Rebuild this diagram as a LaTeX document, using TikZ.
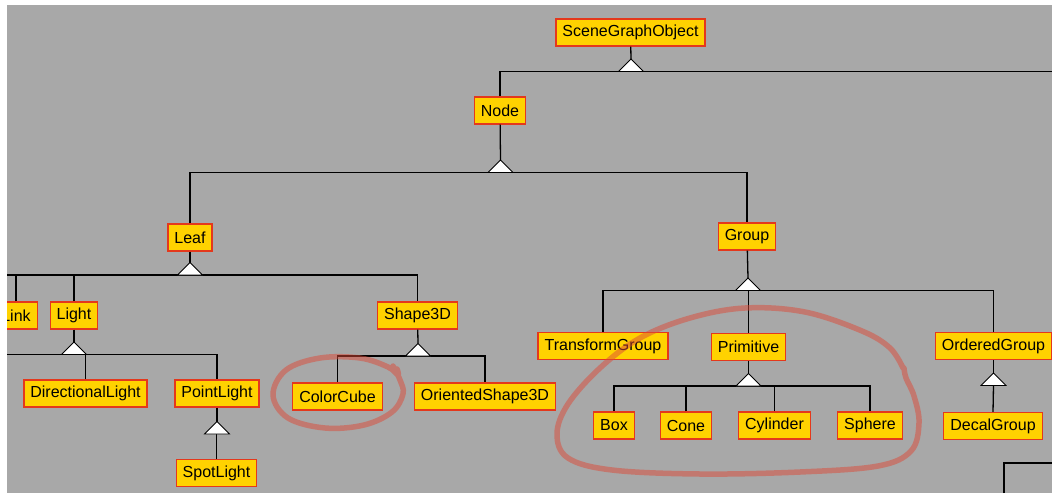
\documentclass[tikz,border=0pt]{standalone}
\usepackage{fontspec}
\setmainfont{Liberation Sans}
\definecolor{backdrop}{HTML}{A8A8A8}
\definecolor{boxfill}{HTML}{FFD200}
\definecolor{boxline}{HTML}{E4381C}
\definecolor{pen}{HTML}{DC4A38}

\begin{document}
\begin{tikzpicture}
            [x=1pt,y=-1pt,
             cls/.style={draw=boxline,fill=boxfill,line width=1.3pt,font=\fontsize{16}{19}\selectfont,
                         inner xsep=6.5pt,inner ysep=0pt,minimum height=27pt},
             link/.style={draw=black,line width=1.3pt},
             inh/.style={draw=black,fill=white,line width=0.8pt,line join=miter},
             scribble/.style={draw=pen,opacity=0.5,line width=5.5pt,line cap=round,line join=round}]

            \fill[white] (0,0) rectangle (1052,493);
            \fill[backdrop] (7,5) rectangle (1052,493);
            \useasboundingbox (0,0) rectangle (1052,493);
            \clip (7,5) rectangle (1052,493);

            \node (sgo) [cls] at (630.5,32.5) {SceneGraphObject};
            \node (node) [cls] at (500,110.5) {Node};
            \node (leaf) [cls] at (190,237.5) {Leaf};
            \node (group) [cls] at (747,236.5) {Group};
            \node (link) [cls] at (16,315.5) {Link};
            \node (light) [cls] at (74,315.5) {Light};
            \node (shape) [cls] at (417.5,315.5) {Shape3D};
            \node (dirlight) [cls] at (85.5,393.5) {DirectionalLight};
            \node (pointlight) [cls] at (217,393.5) {PointLight};
            \node (spotlight) [cls] at (216.5,473) {SpotLight};
            \node (colorcube) [cls] at (337.5,396.5) {ColorCube};
            \node (oriented) [cls] at (485,396.5) {OrientedShape3D};
            \node (transform) [cls] at (603,346) {TransformGroup};
            \node (primitive) [cls] at (748.5,347) {Primitive};
            \node (ordered) [cls] at (993.5,346) {OrderedGroup};
            \node (box) [cls] at (614,425.5) {Box};
            \node (cone) [cls] at (686,425.5) {Cone};
            \node (cylinder) [cls] at (774.5,425.5) {Cylinder};
            \node (sphere) [cls] at (870,425.5) {Sphere};
            \node (decal) [cls] at (993,426) {DecalGroup};

            \coordinate (t-sgo) at (631,59);        \coordinate (b-sgo) at (631,71.5);
            \coordinate (t-node) at (500.5,160);    \coordinate (b-node) at (500.5,172.5);
            \coordinate (t-leaf) at (190,262.5);    \coordinate (b-leaf) at (190,275);
            \coordinate (t-group) at (748,278);     \coordinate (b-group) at (748,290.5);
            \coordinate (t-light) at (74,342);      \coordinate (b-light) at (74,354.5);
            \coordinate (t-point) at (217,421.5);   \coordinate (b-point) at (217,434);
            \coordinate (t-shape) at (418,343.5);   \coordinate (b-shape) at (418,356);
            \coordinate (t-prim) at (748.5,373.5);  \coordinate (b-prim) at (748.5,386);
            \coordinate (t-ord) at (993.5,373);     \coordinate (b-ord) at (993.5,385.5);

            \coordinate (sgo-more) at (1052,71.5);
            \coordinate (leaf-more) at (0,275);
            \coordinate (light-more) at (0,354.5);
            \coordinate (more-a) at (1004,493);
            \coordinate (more-b) at (1052,463);

            \draw[link] (sgo) -- (t-sgo);
            \draw[link] (node.north) |- (sgo-more);
            \draw[link] (node) -- (t-node);
            \draw[link] (leaf.north) |- (b-node) -| (group.north);
            \draw[link] (leaf) -- (t-leaf);
            \draw[link] (leaf-more) -- (b-leaf) -| (shape.north);
            \draw[link] (link.north) -- (link.north |- b-leaf);
            \draw[link] (light.north) -- (light.north |- b-leaf);
            \draw[link] (group) -- (t-group);
            \draw[link] (transform.north) |- (b-group) -| (ordered.north);
            \draw[link] (primitive.north) -- (primitive.north |- b-group);
            \draw[link] (light) -- (t-light);
            \draw[link] (light-more) -- (b-light) -| (pointlight.north);
            \draw[link] (dirlight.north) -- (dirlight.north |- b-light);
            \draw[link] (pointlight) -- (t-point);
            \draw[link] (spotlight.north) -- (spotlight.north |- b-point);
            \draw[link] (shape) -- (t-shape);
            \draw[link] (colorcube.north) |- (b-shape) -| (oriented.north);
            \draw[link] (primitive) -- (t-prim);
            \draw[link] (box.north) |- (b-prim) -| (sphere.north);
            \draw[link] (cone.north) -- (cone.north |- b-prim);
            \draw[link] (cylinder.north) -- (cylinder.north |- b-prim);
            \draw[link] (ordered) -- (t-ord);
            \draw[link] (decal.north) -- (b-ord);
            \draw[link] (more-a) |- (more-b);

            \foreach \t in {t-sgo,t-node,t-leaf,t-group,t-light,t-point,t-shape,t-prim,t-ord}
                \draw[inh] (\t) -- ++(12.5,12.5) -- ++(-25,0) -- cycle;

            \draw[scribble] plot[smooth,tension=0.6] coordinates {(393,366) (400,380) (403,394) (392,412)
                (364,425) (325,428) (288,418) (273,395) (286,370) (320,358) (360,358) (388,367) (398,375) (397,369)};
            \draw[scribble] plot[smooth,tension=0.6] coordinates {(903,368) (890,348) (862,331)
                (805,312) (745,308) (690,318) (640,338) (600,368) (568,404) (557,434) (568,458) (612,470)
                (700,474) (800,472) (878,466) (911,451) (919,423) (914,396) (906,378) (904,368)};
\end{tikzpicture}
\end{document}
